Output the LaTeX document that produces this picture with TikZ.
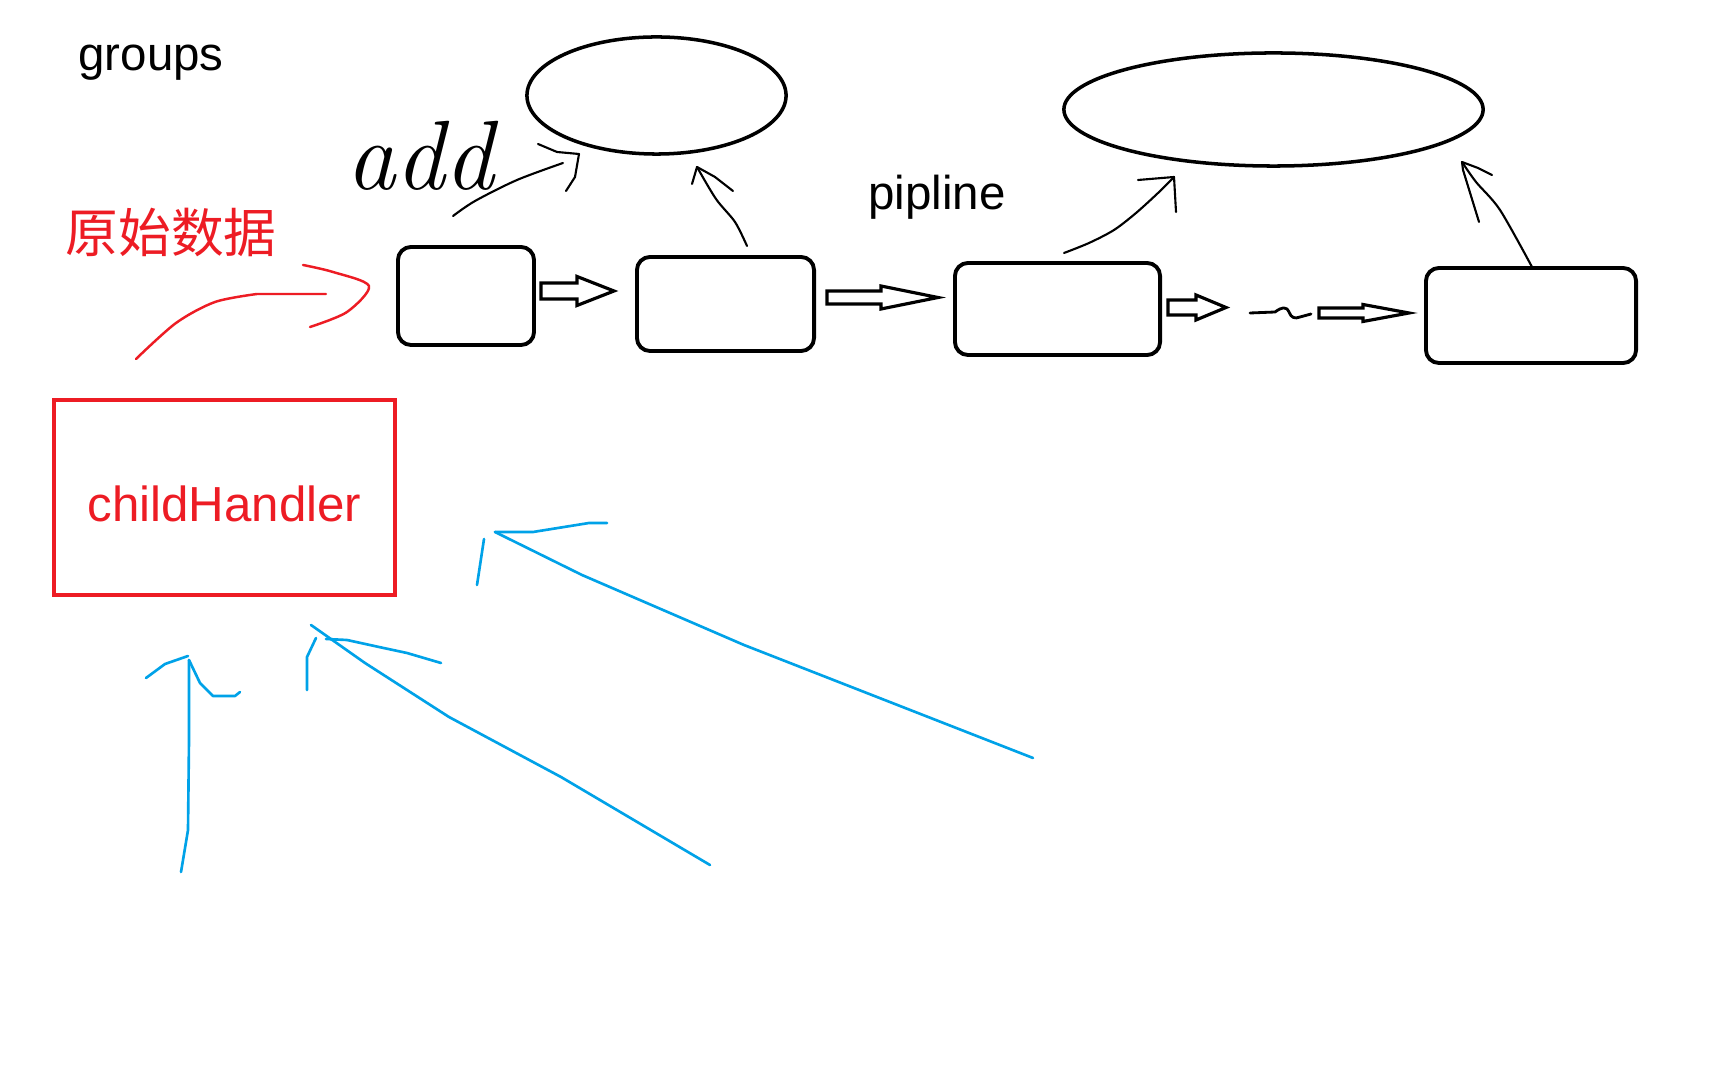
\documentclass[tikz,border=0pt]{standalone}
\usepackage{fontspec}
\newfontfamily\sansf{Liberation Sans}
\newfontfamily\cjk{Noto Sans CJK SC}
\usetikzlibrary{shapes.geometric}
\definecolor{pred}{RGB}{237,28,36}
\definecolor{pblue}{RGB}{0,162,232}
\begin{document}
\begin{tikzpicture}[x=0.01cm,y=-0.01cm,
  ink/.style={draw=black, line width=0.6pt, line cap=round, line join=round},
  redink/.style={draw=pred, line width=0.7pt, line cap=round, line join=round},
  blueink/.style={draw=pblue, line width=0.75pt, line cap=round, line join=round},
  stagebox/.style={draw=black, line width=1.1pt, rounded corners=0.13cm, inner sep=0pt},
  groupell/.style={ellipse, draw=black, line width=1pt, inner sep=0pt},
  hollow/.style={draw=black, line width=0.9pt, line join=miter, fill=white},
  label/.style={inner sep=0pt, font=\sansf\fontsize{13.5}{16}\selectfont},
  pics/harrow/.style args={#1/#2/#3/#4}{code={
    \draw[hollow] (0,-#3) -- (#1-#2,-#3) -- (#1-#2,-#4) -- (#1,0) -- (#1-#2,#4) -- (#1-#2,#3) -- (0,#3) -- cycle;}}
]
\fill[white] (0,0) rectangle (1728,1080);
\useasboundingbox (0,0) rectangle (1728,1080);

% texts
\node[label] (groups) at (151,62.5) {groups};
\node[label] (pipline) at (937,197) {pipline};
\node[inner sep=0pt, anchor=base, font=\itshape\fontsize{28}{32}\selectfont] (add) at (420,190) {add};
\node[inner sep=0pt, text=pred, font=\cjk\fontsize{15}{18}\selectfont] (raw) at (171,233) {原始数据};

% group ellipses
\node[groupell, minimum width=2.59cm, minimum height=1.17cm] (e1) at (656.5,95.5) {};
\node[groupell, minimum width=4.19cm, minimum height=1.13cm] (e2) at (1273.5,109.5) {};

% pipeline stages
\node[stagebox, minimum width=1.36cm, minimum height=0.98cm] (b1) at (466,296) {};
\node[stagebox, minimum width=1.77cm, minimum height=0.94cm] (b2) at (725.5,304) {};
\node[stagebox, minimum width=2.05cm, minimum height=0.92cm] (b3) at (1057.5,309) {};
\node[stagebox, minimum width=2.10cm, minimum height=0.95cm] (b4) at (1531,315.5) {};

% hollow arrows between stages
\pic at (541,291) {harrow=73/37/8/14.5};
\pic at (827,297.5) {harrow=111/57/6.5/11.5};
\pic at (1168,307.5) {harrow=58/30/7.5/12.5};
\pic at (1319,313) {harrow=90/46/5/8.5};
\draw[ink, line width=0.8pt] (1250,313) -- (1275,312) .. controls (1282,307) and (1286,306) .. (1289,312) .. controls (1291,318) and (1295,319) .. (1300,317) -- (1311,314);

% childHandler
\node[draw=pred, line width=1.2pt, minimum width=3.41cm, minimum height=1.95cm, inner sep=0pt,
      text height=13.4pt, text depth=0pt,
      text=pred, font=\sansf\fontsize{14}{17}\selectfont] (child) at (224.5,497.5) {childHandler};

% add arrow
\coordinate (addS) at (453,216);
\coordinate (addT) at (563,163);
\draw[ink] plot[smooth] coordinates {(addS) (475,201) (517,180) (addT)};
\draw[ink] (538,144) -- (557,152) -- (579,154) -- (575,177) -- (566,191);

% stage -> group arrows
\coordinate (s2) at (747,246);
\coordinate (t2) at (697,167);
\draw[ink] plot[smooth] coordinates {(s2) (735,222) (716,199) (t2)};
\draw[ink] (692,184) -- (t2) -- (715,177) -- (733,191);

\coordinate (s3) at (1064,253);
\coordinate (t3) at (1174,177);
\draw[ink] plot[smooth] coordinates {(s3) (1089,243) (1114,230) (1136,213) (1158,193) (t3)};
\draw[ink] (1138,180) -- (t3) -- (1176,212);

\coordinate (s4) at (1532,267);
\coordinate (t4) at (1462,162);
\draw[ink] plot[smooth] coordinates {(s4) (1500,210) (1476,182) (t4)};
\draw[ink] (1479,222) -- (1463,170) -- (t4) -- (1478,168) -- (1492,175);

% raw data arrow
\coordinate (rS) at (136,359);
\coordinate (rT) at (326,294);
\draw[redink] plot[smooth] coordinates {(rS) (176,323) (215,302) (257,294)} -- (rT);
\draw[redink] plot[smooth] coordinates {(303,265) (333,272) (369,286) (347,312) (310,327)};

% blue arrows towards childHandler
\coordinate (l1S) at (181,872);
\coordinate (l1T) at (189,660);
\draw[blueink] (l1S) -- (188,830) -- (189,740) -- (l1T);
\draw[blueink] (146,678) -- (165,664) -- (188,656);
\draw[blueink] (l1T) -- (200,683) -- (213,696) -- (235,696) -- (240,692);

\coordinate (l2S) at (710,865);
\coordinate (l2T) at (311,625);
\draw[blueink] (l2S) -- (561,777) -- (449,717) -- (365,663) -- (l2T);
\draw[blueink] (316,638) -- (307,657) -- (307,690);
\draw[blueink] (326,639) -- (347,640) -- (379,647) -- (407,653) -- (441,663);

\coordinate (l3S) at (1033,758);
\coordinate (l3T) at (495,532);
\draw[blueink] (l3S) -- (744,645) -- (582,575) -- (l3T);
\draw[blueink] (484,539) -- (477,585);
\draw[blueink] (l3T) -- (533,532) -- (589,523) -- (607,523);
\end{tikzpicture}
\end{document}
